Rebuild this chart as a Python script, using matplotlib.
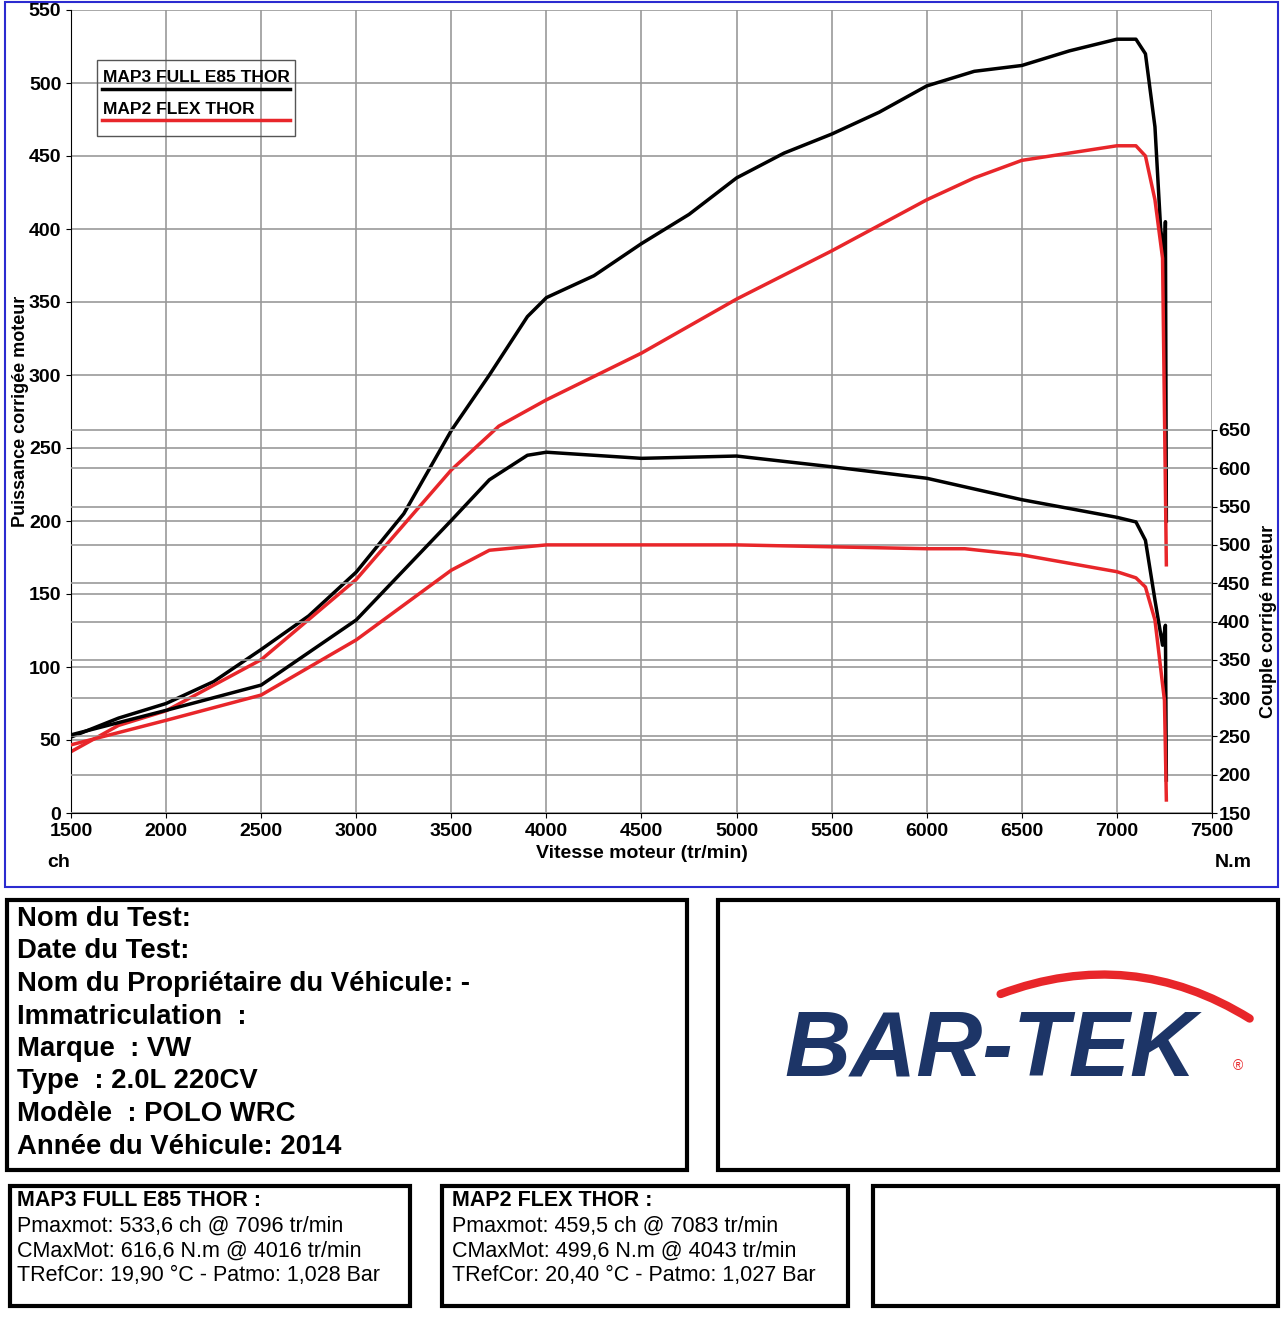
import matplotlib
matplotlib.use("Agg")
import matplotlib.pyplot as plt
from matplotlib.patches import Rectangle, FancyArrowPatch
from matplotlib.lines import Line2D

plt.rcParams["font.family"] = "Liberation Sans"

# engine speed (tr/min) / values
rpm_p_black = [1500, 1750, 2000, 2250, 2500, 2750, 3000, 3250, 3500, 3700, 3900, 4000, 4250, 4500, 4750,
               5000, 5250, 5500, 5750, 6000, 6250, 6500, 6750, 7000, 7100, 7150, 7200, 7230, 7250, 7255, 7260]
pow_black = [52, 65, 75, 90, 112, 135, 165, 205, 262, 300, 340, 353, 368, 390, 410,
             435, 452, 465, 480, 498, 508, 512, 522, 530, 530, 520, 470, 400, 380, 405, 200]

rpm_p_red = [1500, 1750, 2000, 2500, 3000, 3500, 3750, 4000, 4500, 5000, 5500, 6000, 6250, 6500,
             7000, 7100, 7150, 7200, 7240, 7260]
pow_red = [42, 60, 70, 105, 160, 235, 265, 283, 315, 352, 385, 420, 435, 447,
           457, 457, 450, 420, 380, 170]

rpm_t_black = [1500, 2000, 2500, 3000, 3500, 3700, 3900, 4000, 4500, 5000, 5500, 6000, 6500, 7000,
               7100, 7150, 7200, 7240, 7255, 7260]
torque_black = [252, 284, 317, 402, 532, 585, 617, 621, 613, 616, 602, 587, 559, 536,
                530, 506, 428, 369, 395, 193]

rpm_t_red = [1500, 2000, 2500, 3000, 3500, 3700, 4000, 5000, 6000, 6200, 6500, 7000, 7100, 7150,
             7200, 7250, 7260]
torque_red = [239, 271, 304, 376, 467, 493, 500, 500, 495, 495, 487, 465, 457, 445,
              402, 297, 167]

x_ticks = list(range(1500, 7501, 500))
hp_ticks = list(range(0, 551, 50))
nm_ticks = list(range(150, 651, 50))

fig = plt.figure(figsize=(12.84, 13.31), dpi=100)
W, H = 1284, 1331

def fx(px):
    return px / W

def fy(py):
    return 1 - py / H

# blue frame around chart
fig.patches.append(Rectangle((fx(5), fy(887)), fx(1273), 885 / H, transform=fig.transFigure,
                             fill=False, edgecolor="#2b2bd0", lw=1.5))

ax = fig.add_axes([fx(71), fy(813), fx(1212 - 71), (813 - 10) / H])
ax.set_xlim(1500, 7500)
ax.set_ylim(0, 550)
ax.set_xticks(x_ticks)
ax.set_yticks(hp_ticks)
for s in ["top", "right"]:
    ax.spines[s].set_visible(False)
ax.tick_params(labelsize=14)
for lbl in ax.get_xticklabels() + ax.get_yticklabels():
    lbl.set_fontweight("bold")
ax.grid(True, color="#999999", lw=1.2)
ax.set_ylabel("Puissance corrigée moteur", fontsize=13, fontweight="bold", labelpad=0)
ax.set_xlabel("Vitesse moteur (tr/min)", fontsize=14, fontweight="bold", labelpad=4)
ax.text(1375, -28, "ch", fontsize=14, fontweight="bold", va="top")
ax.text(7515, -28, "N.m", fontsize=14, fontweight="bold", va="top")

ax2 = ax.twinx()
ax2.set_ylim(150, 650 + 420 * 500 / 383)
ax2.set_yticks(nm_ticks)
ax2.spines["right"].set_bounds(150, 650)
for s in ["top", "left", "bottom"]:
    ax2.spines[s].set_visible(False)
ax2.tick_params(labelsize=14, pad=1)
for lbl in ax2.get_yticklabels():
    lbl.set_fontweight("bold")
for t in nm_ticks:
    ax2.axhline(t, color="#999999", lw=1.2, zorder=0)
ax2.text(7795, 400, "Couple corrigé moteur", rotation=90, va="center", ha="center",
         fontsize=13, fontweight="bold")

ax.plot(rpm_p_black, pow_black, color="black", lw=2.5)
ax.plot(rpm_p_red, pow_red, color="#e8262a", lw=2.5)
ax2.plot(rpm_t_black, torque_black, color="black", lw=2.5)
ax2.plot(rpm_t_red, torque_red, color="#e8262a", lw=2.5)

# legend box: text with its line underneath
fig.patches.append(Rectangle((fx(97), fy(136)), fx(198), 76 / H, transform=fig.transFigure,
                             fill=False, edgecolor="#555555", lw=1))
for i, (name, col) in enumerate([("MAP3 FULL E85 THOR", "black"), ("MAP2 FLEX THOR", "#e8262a")]):
    fig.text(fx(103), fy(78 + 31 * i), name, fontsize=12.5, fontweight="bold", va="center")
    fig.lines.append(Line2D([fx(102), fx(290)], [fy(89 + 31 * i)] * 2, transform=fig.transFigure,
                            color=col, lw=2.5))

def box(x0, y0, x1, y1):
    fig.patches.append(Rectangle((fx(x0), fy(y1)), fx(x1 - x0), (y1 - y0) / H,
                                 transform=fig.transFigure, fill=False, edgecolor="black", lw=3))

box(7, 900, 687, 1170)
box(718, 900, 1278, 1170)
box(10, 1186, 410, 1306)
box(442, 1186, 848, 1306)
box(873, 1186, 1278, 1306)

info = ["Nom du Test:", "Date du Test:", "Nom du Propriétaire du Véhicule: -", "Immatriculation  :",
        "Marque  : VW", "Type  : 2.0L 220CV", "Modèle  : POLO WRC", "Année du Véhicule: 2014"]
for i, s in enumerate(info):
    fig.text(fx(17), fy(919 + i * 32.5), s, fontsize=19.8, fontweight="bold", va="center")

res1 = ["Pmaxmot: 533,6 ch @ 7096 tr/min", "CMaxMot: 616,6 N.m @ 4016 tr/min",
        "TRefCor: 19,90 °C - Patmo: 1,028 Bar"]
res2 = ["Pmaxmot: 459,5 ch @ 7083 tr/min", "CMaxMot: 499,6 N.m @ 4043 tr/min",
        "TRefCor: 20,40 °C - Patmo: 1,027 Bar"]
fig.text(fx(17), fy(1201), "MAP3 FULL E85 THOR :", fontsize=15.5, fontweight="bold", va="center")
fig.text(fx(452), fy(1201), "MAP2 FLEX THOR :", fontsize=15.5, fontweight="bold", va="center")
for i, s in enumerate(res1):
    fig.text(fx(17), fy(1226 + i * 25), s, fontsize=15.5, va="center")
for i, s in enumerate(res2):
    fig.text(fx(452), fy(1226 + i * 25), s, fontsize=15.5, va="center")

# logo
fig.text(fx(990), fy(1052), "BAR-TEK", fontsize=66, fontweight="bold", style="italic",
         color="#1d3567", ha="center", va="center")
fig.text(fx(1238), fy(1066), "®", fontsize=10, color="#e8262a", ha="center", va="center")
fig.patches.append(FancyArrowPatch((fx(998), fy(995)), (fx(1252), fy(1020)), transform=fig.transFigure,
                                   connectionstyle="arc3,rad=-0.25", arrowstyle="-",
                                   color="#e8262a", lw=6))

fig.savefig("out.png", dpi=100)
